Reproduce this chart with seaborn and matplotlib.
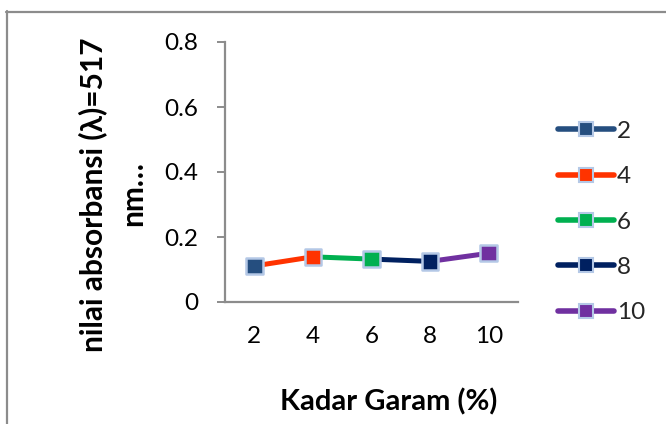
import matplotlib
matplotlib.use('Agg')
import matplotlib.pyplot as plt
import seaborn as sns
import pandas as pd
from matplotlib.lines import Line2D

# Data
kadar = [2, 4, 6, 8, 10]
labels = ['2', '4', '6', '8', '10']
absorbansi = [0.111, 0.139, 0.132, 0.125, 0.150]
colors = ['#254E7F', '#FF3300', '#00B050', '#002060', '#7030A0']
yticks = [0, 0.2, 0.4, 0.6, 0.8]
ytick_labels = ['0', '0.2', '0.4', '0.6', '0.8']

sns.set_theme(style='white')
plt.rcParams['font.family'] = ['Lato', 'DejaVu Sans']

W, H = 666, 424
fig = plt.figure(figsize=(W / 100, H / 100), dpi=100)
ax = fig.add_axes([225 / W, 1 - 302 / H, 293 / W, 260 / H])

palette = dict(zip(labels, colors))

# segments: each segment takes the colour of the point it leads to
rows = []
for i in range(1, len(kadar)):
    rows.append({'x': kadar[i - 1], 'y': absorbansi[i - 1], 'seg': labels[i]})
    rows.append({'x': kadar[i], 'y': absorbansi[i], 'seg': labels[i]})
seg = pd.DataFrame(rows)
pts = pd.DataFrame({'x': kadar, 'y': absorbansi, 'label': labels})

sns.lineplot(data=seg, x='x', y='y', hue='seg', palette=palette,
             estimator=None, sort=False, lw=3.6, legend=False, ax=ax)
sns.scatterplot(data=pts, x='x', y='y', hue='label', palette=palette,
                marker='s', s=140, edgecolor='#B4C8E6', linewidth=1.8,
                legend=False, ax=ax, zorder=5)

ax.set_xlim(1, 11)
ax.set_ylim(0, 0.8)
ax.set_xticks(kadar)
ax.set_xticklabels(labels)
ax.set_yticks(yticks)
ax.set_yticklabels(ytick_labels)
ax.set_xlabel('')
ax.set_ylabel('')

for s in ['top', 'right']:
    ax.spines[s].set_visible(False)
for s in ['left', 'bottom']:
    ax.spines[s].set_color('#8C8C8C')
    ax.spines[s].set_linewidth(1.6)

ax.tick_params(axis='y', left=True, length=6, width=1.4, color='#8C8C8C',
               pad=13, labelsize=17.5, labelcolor='black')
ax.tick_params(axis='x', bottom=False, length=0, pad=17, labelsize=17.5,
               labelcolor='black')

# axis titles
fig.text(389 / W, 1 - 410 / H, 'Kadar Garam (%)', ha='center', va='baseline',
         fontsize=21, fontweight='bold', color='black')
fig.text(102 / W, 1 - 195 / H, 'nilai absorbansi (λ)=517', rotation=90,
         rotation_mode='anchor', ha='center', va='baseline',
         fontsize=21.5, fontweight='bold', color='black')
fig.text(142 / W, 1 - 194 / H, 'nm…', rotation=90,
         rotation_mode='anchor', ha='center', va='baseline',
         fontsize=21.5, fontweight='bold', color='black')

# legend
handles = [Line2D([0], [0], color=c, lw=4, marker='s', markersize=10,
                  markerfacecolor=c, markeredgecolor='#B4C8E6',
                  markeredgewidth=1.5, solid_capstyle='round')
           for c in colors]
fig.legend(handles, labels, loc='center left',
           bbox_to_anchor=(558 / W, 1 - 222 / H), frameon=False,
           fontsize=17.5, handlelength=2.3, handletextpad=0.12,
           labelspacing=1.0, borderpad=0, borderaxespad=0)

# outer chart frame
fig.add_artist(Line2D([7 / W, 7 / W], [0, 1 - 11 / H], color='#8C8C8C',
                      lw=1.6, transform=fig.transFigure))
fig.add_artist(Line2D([6 / W, 1], [1 - 11.5 / H, 1 - 11.5 / H],
                      color='#8C8C8C', lw=1.6, transform=fig.transFigure))

fig.savefig('out.png', dpi=100)
